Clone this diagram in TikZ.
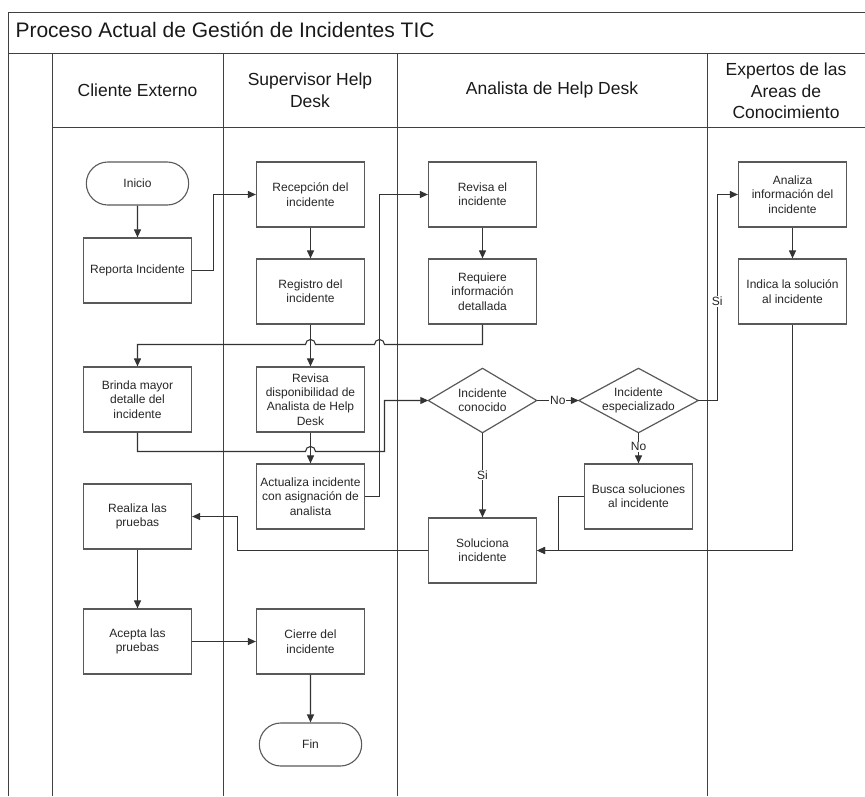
\documentclass[tikz,border=0pt]{standalone}
\usepackage{fontspec}
\setmainfont{Liberation Sans}
\usetikzlibrary{arrows.meta,shapes.misc,calc}
\begin{document}
\begin{tikzpicture}[x=1pt,y=1pt,
  lane/.style={draw=black!75,line width=1.3pt},
  boxfont/.style={font=\fontsize{12}{14.4}\selectfont,text=black!85},
  stepbox/.style={boxfont,draw=black!65,line width=1.2pt,minimum width=108pt,minimum height=65pt,inner sep=1pt,align=center},
  terminal/.style={boxfont,rounded rectangle,draw=black!65,line width=1.1pt,minimum width=109pt,minimum height=43pt},
  decision/.style={boxfont,rectangle,minimum width=108pt,minimum height=64pt,inner sep=0pt,align=center},
  flow/.style={draw=black!80,line width=1.1pt,-{Triangle[length=8pt,width=7pt]}},
  lbl/.style={boxfont,fill=white,inner sep=0.8pt},
  head/.style={font=\fontsize{17.5}{21.5}\selectfont,align=center,text=black!90}
]
\useasboundingbox (0,0) rectangle (865,-796);

% pool frame, title band and swimlanes
\draw[lane] (8.5,-796) -- (8.5,-12.5) -- (865,-12.5);
\draw[lane] (8.5,-53.5) -- (865,-53.5);
\draw[lane] (52.5,-127.5) -- (865,-127.5);
\foreach \x in {52.5,223.5,397.5,707.5} \draw[lane] (\x,-53.5) -- (\x,-796);

\node[anchor=base west,font=\fontsize{21}{25}\selectfont,text=black!90] (title) at (12,-37) {Proceso Actual de Gestión de Incidentes TIC};

% lane headers
\node[head] (hcliente) at (137.5,-90) {Cliente Externo};
\node[head] (hsuper) at (310,-90) {Supervisor Help\\Desk};
\node[head] (hanal) at (552,-90) {Analista de Help Desk};
\node[head] (hexp) at (786,-91) {Expertos de las\\Areas de\\Conocimiento};

% Cliente Externo
\node[terminal] (inicio) at (137.5,-183.5) {Inicio};
\node[stepbox] (reporta) at (137.5,-270.5) {Reporta Incidente};
\node[stepbox] (brinda) at (137.5,-399.5) {Brinda mayor\\detalle del\\incidente};
\node[stepbox] (realiza) at (137.5,-516.5) {Realiza las\\pruebas};
\node[stepbox] (acepta) at (137.5,-641.5) {Acepta las\\pruebas};

% Supervisor Help Desk
\node[stepbox] (recepcion) at (310.5,-194.5) {Recepción del\\incidente};
\node[stepbox] (registro) at (310.5,-291.5) {Registro del\\incidente};
\node[stepbox] (revisadisp) at (310.5,-399.5) {Revisa\\disponibilidad de\\Analista de Help\\Desk};
\node[stepbox] (actualiza) at (310.5,-496.5) {Actualiza incidente\\con asignación de\\analista};
\node[stepbox] (cierre) at (310.5,-641.5) {Cierre del\\incidente};
\node[terminal] (fin) at (310.5,-744.5) {Fin};

% Analista de Help Desk
\node[stepbox] (revisa) at (482.5,-194.5) {Revisa el\\incidente};
\node[stepbox] (requiere) at (482.5,-291.5) {Requiere\\información\\detallada};
\node[decision] (conocido) at (482.5,-400.5) {Incidente\\conocido};
\node[decision,minimum width=119pt] (especializado) at (638.5,-400.5) {Incidente\\especializado};
\node[stepbox] (busca) at (638.5,-496.5) {Busca soluciones\\al incidente};
\node[stepbox] (soluciona) at (482.5,-550.5) {Soluciona\\incidente};

% Expertos de las Areas de Conocimiento
\node[stepbox] (analiza) at (792.5,-194.5) {Analiza\\información del\\incidente};
\node[stepbox] (indica) at (792.5,-291.5) {Indica la solución\\al incidente};

% decision outlines
\foreach \d in {conocido,especializado}
  \draw[draw=black!65,line width=1.2pt] (\d.north) -- (\d.east) -- (\d.south) -- (\d.west) -- cycle;

% routing levels and channels
\coordinate (yreq) at (0,-344.5);
\coordinate (ybr) at (0,-451.5);
\coordinate (xup) at (379.5,0);
\coordinate (xbr) at (384.5,0);
\coordinate (xsol) at (237.5,0);

% straight steps
\draw[flow] (inicio) -- (reporta);
\draw[flow] (recepcion) -- (registro);
\draw[flow] (registro) -- (revisadisp);
\draw[flow] (revisadisp) -- (actualiza);
\draw[flow] (revisa) -- (requiere);
\draw[flow] (analiza) -- (indica);
\draw[flow] (realiza) -- (acepta);
\draw[flow] (acepta) -- (cierre);
\draw[flow] (cierre) -- (fin);

% routed connectors
\draw[flow] (reporta.east) -- ++(21,0) |- (recepcion.west);
\draw[flow] (actualiza.east) -- (xup |- actualiza.east) -- (xup |- revisa.west) -- (revisa.west);
\draw[flow] (requiere.south) -- (requiere.south |- yreq)
  -- ([xshift=5pt]xup |- yreq) arc[start angle=0,end angle=180,radius=5pt]
  -- ([xshift=5pt]registro.south |- yreq) arc[start angle=0,end angle=180,radius=5pt]
  -- (brinda.north |- yreq) -- (brinda.north);
\draw[flow] (brinda.south) -- (brinda.south |- ybr)
  -- ([xshift=-5pt]revisadisp.south |- ybr) arc[start angle=180,end angle=0,radius=5pt]
  -- (xbr |- ybr) |- (conocido.west);
\draw[flow] (conocido.east) -- node[lbl]{No} (especializado.west);
\draw[flow] (conocido.south) -- node[lbl]{Si} (soluciona.north);
\draw[flow] (especializado.south) -- node[lbl,pos=0.45]{No} (busca.north);
\draw[flow] (especializado.east) -- ++(19,0) |- node[lbl,pos=0.24]{Si} (analiza.west);
\draw[flow] (indica.south) |- (soluciona.east);
\draw[flow] (busca.west) -- ++(-25,0) |- (soluciona.east);
\draw[flow] (soluciona.west) -- (xsol |- soluciona.west) |- (realiza.east);
\end{tikzpicture}
\end{document}
